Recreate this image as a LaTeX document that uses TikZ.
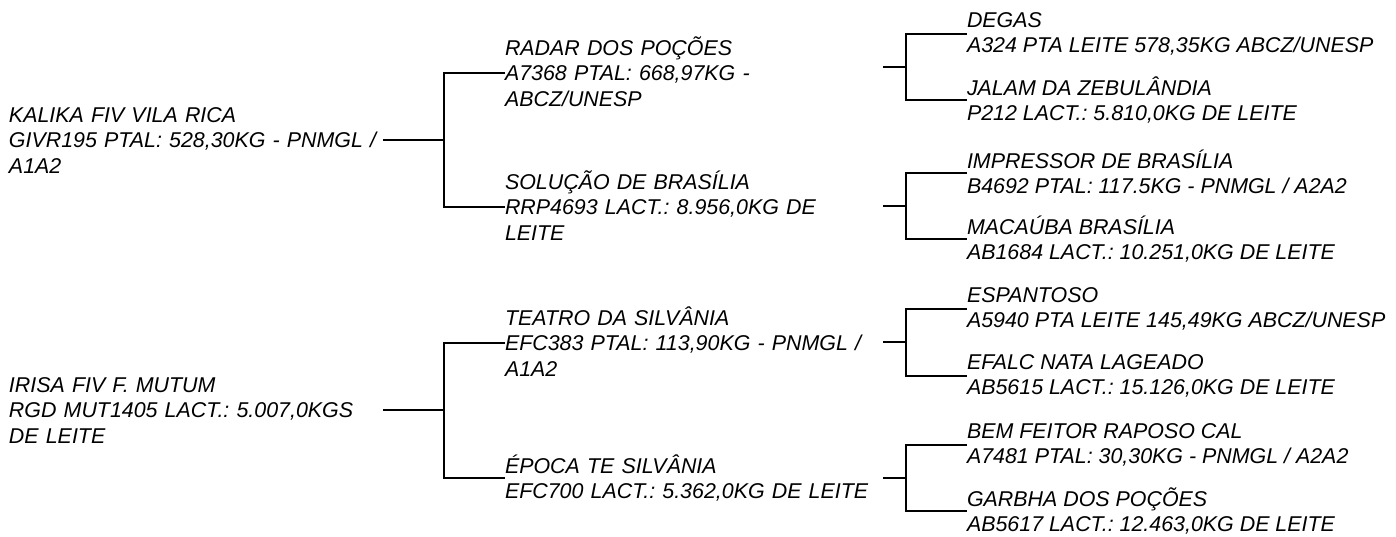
\documentclass[tikz,border=0pt]{standalone}
\usepackage{fontspec}
\setmainfont{Liberation Sans}
\frenchspacing
\newcommand\pedstrut{\rule[-3pt]{0pt}{21pt}}
\begin{document}
\begin{tikzpicture}[x=1pt,y=-1pt,
  animal/.style={anchor=west,inner sep=0pt,outer sep=0pt,align=left,
    font=\fontsize{21.4}{25.5}\selectfont\itshape,
    execute at begin node=\pedstrut, execute at end node=\pedstrut},
  conn/.style={line width=2.9pt,line join=miter,line cap=butt}]
\useasboundingbox (0,0) rectangle (1396,536);
% generation 1
\node[animal,text width=374pt] (k1) at (9,140) {KALIKA FIV VILA RICA\\GIVR195 PTAL: 528,30KG - PNMGL /\\A1A2};
\node[animal,text width=374pt] (k2) at (9,410) {IRISA FIV F. MUTUM\\RGD MUT1405 LACT.: 5.007,0KGS\\DE LEITE};
% generation 2
\node[animal,text width=378pt] (r1) at (505,73) {RADAR DOS POÇÕES\\A7368 PTAL: 668,97KG -\\ABCZ/UNESP};
\node[animal,text width=378pt] (r2) at (505,207) {SOLUÇÃO DE BRASÍLIA\\RRP4693 LACT.: 8.956,0KG DE\\LEITE};
\node[animal,text width=378pt] (r3) at (505,343) {TEATRO DA SILVÂNIA\\EFC383 PTAL: 113,90KG - PNMGL /\\A1A2};
\node[animal,text width=378pt] (r4) at (505,478) {ÉPOCA TE SILVÂNIA\\EFC700 LACT.: 5.362,0KG DE LEITE};
% generation 3
\node[animal] (d1) at (967,34) {DEGAS\\A324 PTA LEITE 578,35KG ABCZ/UNESP};
\node[animal] (d2) at (967,100) {JALAM DA ZEBULÂNDIA\\P212 LACT.: 5.810,0KG DE LEITE};
\node[animal] (d3) at (967,173) {IMPRESSOR DE BRASÍLIA\\B4692 PTAL: 117.5KG - PNMGL / A2A2};
\node[animal] (d4) at (967,239) {MACAÚBA BRASÍLIA\\AB1684 LACT.: 10.251,0KG DE LEITE};
\node[animal] (d5) at (967,309) {ESPANTOSO\\A5940 PTA LEITE 145,49KG ABCZ/UNESP};
\node[animal] (d6) at (967,376) {EFALC NATA LAGEADO\\AB5615 LACT.: 15.126,0KG DE LEITE};
\node[animal] (d7) at (967,445) {BEM FEITOR RAPOSO CAL\\A7481 PTAL: 30,30KG - PNMGL / A2A2};
\node[animal] (d8) at (967,511) {GARBHA DOS POÇÕES\\AB5617 LACT.: 12.463,0KG DE LEITE};
% bracket joints
\coordinate (b1) at (444,140);
\coordinate (b2) at (444,410);
\coordinate (c1) at (906,67);
\coordinate (c2) at (906,206);
\coordinate (c3) at (906,342);
\coordinate (c4) at (906,478);
% connectors
\draw[conn] (k1.east) -- (b1);
\draw[conn] (r1.west) -| (b1) |- (r2.west);
\draw[conn] (k2.east) -- (b2);
\draw[conn] (r3.west) -| (b2) |- (r4.west);
\draw[conn] (r1.east |- c1) -- (c1);
\draw[conn] (d1.west) -| (c1) |- (d2.west);
\draw[conn] (r2.east |- c2) -- (c2);
\draw[conn] (d3.west) -| (c2) |- (d4.west);
\draw[conn] (r3.east |- c3) -- (c3);
\draw[conn] (d5.west) -| (c3) |- (d6.west);
\draw[conn] (r4.east |- c4) -- (c4);
\draw[conn] (d7.west) -| (c4) |- (d8.west);
\end{tikzpicture}
\end{document}
